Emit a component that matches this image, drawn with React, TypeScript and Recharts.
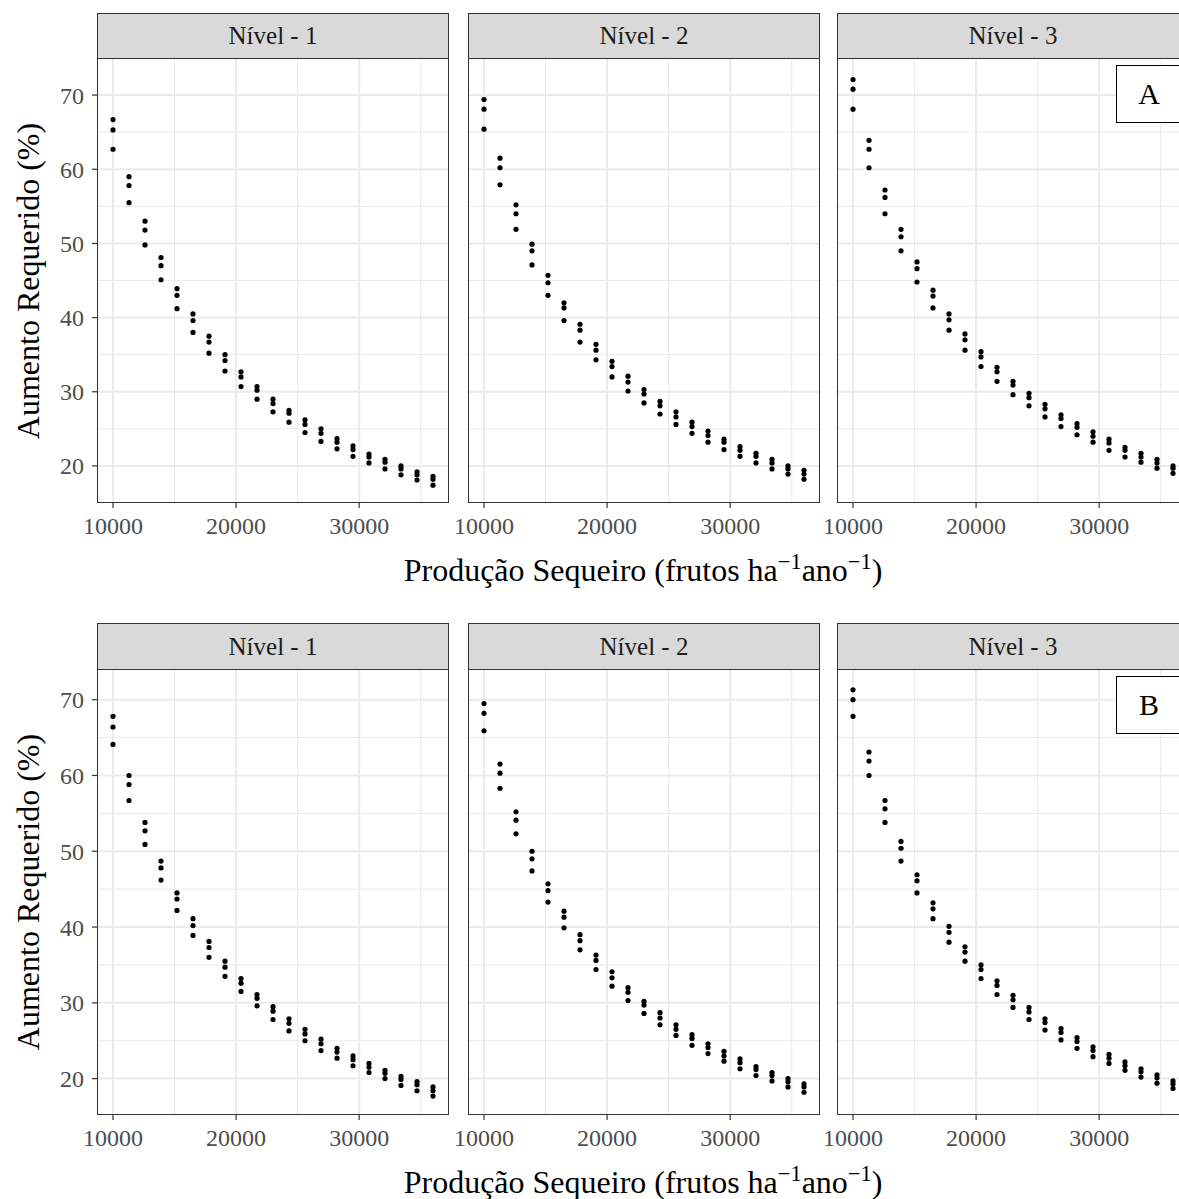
import React from 'react';
import { ScatterChart, Scatter, XAxis, YAxis, ReferenceLine } from 'recharts';

// Produção sequeiro (frutos/ha/ano)
const producao = [
  10000, 11300, 12600, 13900, 15200, 16500, 17800, 19100, 20400, 21700, 23000,
  24300, 25600, 26900, 28200, 29500, 30800, 32100, 33400, 34700, 36000,
];

// A - Nível 1
const a1Alto = [66.7, 59.0, 53.0, 48.1, 43.9, 40.5, 37.5, 35.0, 32.7, 30.7, 29.0, 27.5, 26.2, 25.0, 23.7, 22.7, 21.6, 20.9, 20.0, 19.2, 18.6];
const a1Medio = [65.3, 57.8, 51.8, 47.0, 43.0, 39.6, 36.7, 34.2, 32.0, 30.2, 28.4, 27.1, 25.6, 24.4, 23.2, 22.2, 21.2, 20.5, 19.6, 18.8, 18.2];
const a1Baixo = [62.7, 55.5, 49.8, 45.1, 41.2, 38.0, 35.2, 32.8, 30.7, 29.0, 27.3, 25.9, 24.5, 23.3, 22.3, 21.3, 20.4, 19.6, 18.8, 18.1, 17.4];
// A - Nível 2
const a2Alto = [69.4, 61.5, 55.2, 49.9, 45.7, 42.0, 39.1, 36.4, 34.1, 32.1, 30.3, 28.7, 27.3, 25.9, 24.7, 23.6, 22.6, 21.7, 20.9, 20.0, 19.4];
const a2Medio = [68.1, 60.2, 54.0, 49.0, 44.7, 41.3, 38.3, 35.6, 33.4, 31.3, 29.7, 28.1, 26.6, 25.3, 24.1, 23.2, 22.1, 21.3, 20.4, 19.6, 18.9];
const a2Baixo = [65.4, 57.9, 51.9, 47.1, 43.0, 39.6, 36.7, 34.3, 32.0, 30.1, 28.5, 27.0, 25.6, 24.4, 23.2, 22.2, 21.3, 20.4, 19.6, 18.9, 18.2];
// A - Nível 3
const a3Alto = [72.1, 63.9, 57.2, 51.9, 47.5, 43.7, 40.5, 37.8, 35.4, 33.3, 31.4, 29.8, 28.3, 26.9, 25.7, 24.6, 23.6, 22.5, 21.7, 20.9, 20.0];
const a3Medio = [70.8, 62.7, 56.2, 50.9, 46.6, 42.9, 39.7, 37.0, 34.7, 32.7, 30.9, 29.2, 27.7, 26.4, 25.2, 24.0, 23.1, 22.1, 21.2, 20.4, 19.7];
const a3Baixo = [68.1, 60.2, 54.0, 49.0, 44.8, 41.3, 38.3, 35.6, 33.4, 31.4, 29.6, 28.1, 26.6, 25.3, 24.2, 23.2, 22.1, 21.2, 20.5, 19.7, 19.0];

// B - Nível 1
const b1Alto = [67.8, 60.0, 53.8, 48.7, 44.5, 41.1, 38.1, 35.5, 33.2, 31.1, 29.5, 27.9, 26.5, 25.2, 24.0, 23.0, 22.0, 21.1, 20.3, 19.6, 18.9];
const b1Medio = [66.4, 58.8, 52.7, 47.8, 43.7, 40.2, 37.3, 34.7, 32.6, 30.6, 28.9, 27.3, 25.9, 24.6, 23.5, 22.5, 21.5, 20.7, 19.9, 19.2, 18.4];
const b1Baixo = [64.1, 56.7, 50.9, 46.2, 42.2, 38.9, 36.0, 33.5, 31.5, 29.6, 27.8, 26.3, 25.0, 23.7, 22.7, 21.7, 20.8, 20.0, 19.1, 18.4, 17.7];
// B - Nível 2
const b2Alto = [69.5, 61.5, 55.2, 50.0, 45.7, 42.1, 39.0, 36.3, 34.1, 32.0, 30.2, 28.7, 27.1, 25.8, 24.6, 23.6, 22.6, 21.6, 20.8, 20.0, 19.3];
const b2Medio = [68.2, 60.3, 54.1, 49.0, 44.8, 41.3, 38.2, 35.6, 33.3, 31.4, 29.7, 28.0, 26.5, 25.3, 24.1, 23.0, 22.1, 21.2, 20.4, 19.6, 18.9];
const b2Baixo = [65.9, 58.3, 52.3, 47.4, 43.3, 39.9, 37.0, 34.4, 32.2, 30.3, 28.6, 27.1, 25.7, 24.4, 23.3, 22.3, 21.3, 20.4, 19.7, 18.9, 18.2];
// B - Nível 3
const b3Alto = [71.3, 63.1, 56.7, 51.3, 46.9, 43.2, 40.1, 37.4, 35.0, 32.9, 31.0, 29.4, 27.9, 26.6, 25.4, 24.2, 23.2, 22.2, 21.3, 20.5, 19.7];
const b3Medio = [70.0, 61.9, 55.6, 50.4, 46.1, 42.4, 39.3, 36.7, 34.4, 32.3, 30.4, 28.8, 27.4, 26.1, 24.9, 23.7, 22.7, 21.7, 20.9, 20.1, 19.3];
const b3Baixo = [67.8, 60.0, 53.8, 48.7, 44.5, 41.1, 38.0, 35.5, 33.2, 31.1, 29.4, 27.8, 26.4, 25.1, 24.0, 22.9, 22.0, 21.1, 20.2, 19.4, 18.7];

const niveis = ['Nível - 1', 'Nível - 2', 'Nível - 3'];
const xTicks = [10000, 20000, 30000];
const xMinor = [15000, 25000, 35000];
const yTicks = [20, 30, 40, 50, 60, 70];
const yMinor = [25, 35, 45, 55, 65];

const FONT = '"Liberation Serif", "Times New Roman", serif';
const PANEL_LEFT = [97, 468, 837];
const PANEL_W = 352;

const toPoints = (ys: number[]) => producao.map((x, i) => ({ x, y: ys[i] }));

const dot = (p: any) => <circle cx={p.cx} cy={p.cy} r={2.6} fill="#000" />;

function Panel({ left, top, height, series, domain, showY }: any) {
  const mL = showY ? 97 : 30;
  return (
    <div style={{ position: 'absolute', left: left - mL, top }}>
      <ScatterChart
        width={mL + PANEL_W + 30}
        height={height + 50}
        margin={{ top: 0, right: 30, bottom: 0, left: showY ? 0 : mL }}
      >
        <XAxis
          type="number"
          dataKey="x"
          domain={[8700, 37300]}
          ticks={xTicks}
          interval={0}
          allowDataOverflow
          axisLine={false}
          tickSize={5}
          tickMargin={9}
          height={50}
          tickLine={{ stroke: '#333', strokeWidth: 1.2 }}
          tick={{ fontSize: 24, fill: '#4d4d4d', fontFamily: FONT }}
        />
        <YAxis
          type="number"
          dataKey="y"
          domain={domain}
          ticks={yTicks}
          interval={0}
          allowDataOverflow
          hide={!showY}
          width={97}
          axisLine={false}
          tickSize={5}
          tickMargin={8}
          tickLine={{ stroke: '#333', strokeWidth: 1.2 }}
          tick={{ fontSize: 24, fill: '#4d4d4d', fontFamily: FONT }}
        />
        {yMinor.map((v) => (
          <ReferenceLine key={'ym' + v} y={v} stroke="#ebebeb" strokeWidth={1} />
        ))}
        {xMinor.map((v) => (
          <ReferenceLine key={'xm' + v} x={v} stroke="#ebebeb" strokeWidth={1} />
        ))}
        {yTicks.map((v) => (
          <ReferenceLine key={'y' + v} y={v} stroke="#ebebeb" strokeWidth={2} />
        ))}
        {xTicks.map((v) => (
          <ReferenceLine key={'x' + v} x={v} stroke="#ebebeb" strokeWidth={2} />
        ))}
        {series.map((ys: number[], i: number) => (
          <Scatter key={i} data={toPoints(ys)} shape={dot} isAnimationActive={false} />
        ))}
      </ScatterChart>
      <div
        style={{
          position: 'absolute',
          left: mL,
          top: 0,
          width: PANEL_W,
          height,
          border: '1.5px solid #333',
          boxSizing: 'border-box',
          pointerEvents: 'none',
        }}
      />
    </div>
  );
}

function Row({ stripTop, plotTop, plotH, panels, domain, label, boxTop }: any) {
  return (
    <>
      {panels.map((series: number[][], i: number) => (
        <React.Fragment key={i}>
          <div
            style={{
              position: 'absolute',
              left: PANEL_LEFT[i],
              top: stripTop,
              width: PANEL_W,
              height: plotTop - stripTop + 1,
              background: '#d9d9d9',
              border: '1.5px solid #333',
              boxSizing: 'border-box',
              display: 'flex',
              alignItems: 'center',
              justifyContent: 'center',
              fontSize: 25,
              color: '#1a1a1a',
            }}
          >
            {niveis[i]}
          </div>
          <Panel left={PANEL_LEFT[i]} top={plotTop} height={plotH} series={series} domain={domain} showY={i === 0} />
        </React.Fragment>
      ))}
      <div
        style={{
          position: 'absolute',
          left: 28 - 200,
          top: plotTop + plotH / 2 - 20,
          width: 400,
          height: 40,
          lineHeight: '40px',
          textAlign: 'center',
          transform: 'rotate(-90deg)',
          fontSize: 32,
          color: '#000',
          whiteSpace: 'nowrap',
        }}
      >
        Aumento Requerido (%)
      </div>
      <div
        style={{
          position: 'absolute',
          left: 293,
          top: plotTop + plotH + 47,
          width: 700,
          lineHeight: '40px',
          textAlign: 'center',
          fontSize: 32,
          color: '#000',
          whiteSpace: 'nowrap',
        }}
      >
        Produção Sequeiro (frutos ha<sup style={{ fontSize: '0.7em', lineHeight: 0 }}>−1</sup>ano<sup style={{ fontSize: '0.7em', lineHeight: 0 }}>−1</sup>)
      </div>
      <div
        style={{
          position: 'absolute',
          left: 1116,
          top: boxTop,
          width: 66,
          height: 58,
          background: '#fff',
          border: '1.5px solid #000',
          boxSizing: 'border-box',
          display: 'flex',
          alignItems: 'center',
          justifyContent: 'center',
          fontSize: 30,
        }}
      >
        {label}
      </div>
    </>
  );
}

export default function App() {
  return (
    <div
      style={{
        position: 'fixed',
        left: 0,
        top: 0,
        width: 1179,
        height: 1199,
        overflow: 'hidden',
        background: '#fff',
        fontFamily: FONT,
      }}
    >
      <Row
        stripTop={13}
        plotTop={58}
        plotH={445}
        domain={[15, 75]}
        label="A"
        boxTop={65}
        panels={[
          [a1Alto, a1Medio, a1Baixo],
          [a2Alto, a2Medio, a2Baixo],
          [a3Alto, a3Medio, a3Baixo],
        ]}
      />
      <Row
        stripTop={623}
        plotTop={669}
        plotH={446}
        domain={[15.2, 74.05]}
        label="B"
        boxTop={676}
        panels={[
          [b1Alto, b1Medio, b1Baixo],
          [b2Alto, b2Medio, b2Baixo],
          [b3Alto, b3Medio, b3Baixo],
        ]}
      />
    </div>
  );
}
